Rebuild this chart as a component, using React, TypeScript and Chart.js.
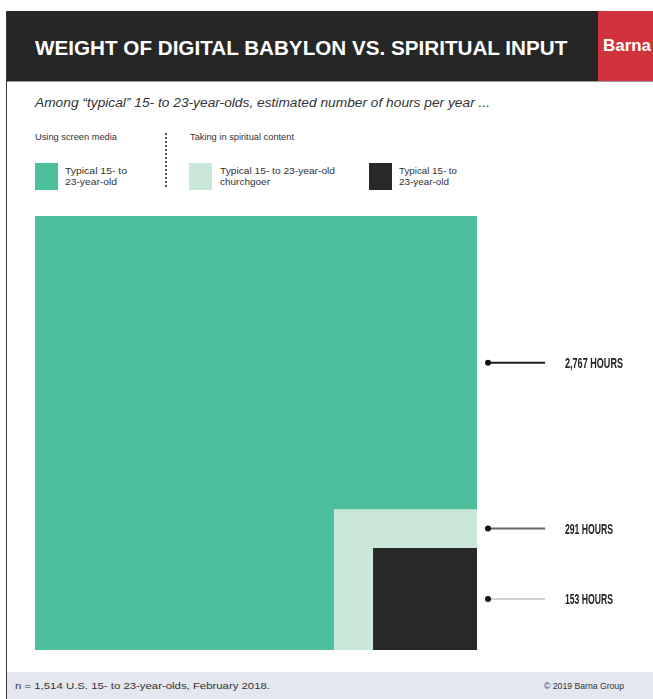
import React, { useEffect, useRef } from "react";
import { Chart, registerables } from "chart.js";

Chart.register(...registerables);

// ---- data ----
const categories = [
  "Typical 15- to 23-year-old (screen media)",
  "Typical 15- to 23-year-old churchgoer",
  "Typical 15- to 23-year-old",
];
const hours = [2767, 291, 153];
const hourLabels = ["2,767 HOURS", "291 HOURS", "153 HOURS"];
const colors = ["#4dbf9c", "#c9e8da", "#282828"];
const leaderColors = ["#1e1e1e", "#666666", "#d2d2d2"];

const titleText = "WEIGHT OF DIGITAL BABYLON VS. SPIRITUAL INPUT";
const subtitleText =
  "Among \u201ctypical\u201d 15- to 23-year-olds, estimated number of hours per year ...";
const footerLeft = "n = 1,514 U.S. 15- to 23-year-olds, February 2018.";
const footerRight = "\u00a9 2019 Barna Group";

const measureCanvas = typeof document !== "undefined" ? document.createElement("canvas") : null;
function measure(text: string, font: string): number {
  if (!measureCanvas) return 1;
  const ctx = measureCanvas.getContext("2d")!;
  ctx.font = font;
  return ctx.measureText(text).width || 1;
}

function Fit(props: {
  text: string;
  font: string;
  width: number;
  left: number;
  top: number;
  color: string;
  maxScale?: number;
}) {
  const w = measure(props.text, props.font);
  let s = props.width / w;
  if (props.maxScale && s > props.maxScale) s = props.maxScale;
  return (
    <div
      style={{
        position: "absolute",
        left: props.left,
        top: props.top,
        font: props.font,
        color: props.color,
        whiteSpace: "nowrap",
        lineHeight: "1",
        transformOrigin: "0 50%",
        transform: `translateY(-50%) scaleX(${s})`,
      }}
    >
      {props.text}
    </div>
  );
}

const sides = hours.map((h) => Math.sqrt(h));
const S = sides[0];

function ChartBox() {
  const ref = useRef<HTMLCanvasElement | null>(null);
  useEffect(() => {
    if (!ref.current) return;
    const datasets = hours.map((h, i) => {
      const s = sides[i];
      return {
        label: categories[i],
        data: [
          { x: S - s, y: 0 },
          { x: S - s, y: s },
          { x: S, y: s },
          { x: S, y: 0 },
        ],
        backgroundColor: colors[i],
        borderColor: colors[i],
        borderWidth: 0,
        pointRadius: 0,
        pointHoverRadius: 0,
        fill: "origin",
        tension: 0,
        order: hours.length - i,
      };
    });
    // draw order: larger first
    const leaderPlugin = {
      id: "leaders",
      afterDatasetsDraw(chart: any) {
        const { ctx, chartArea, scales } = chart;
        const ys = [(sides[0] + sides[1]) / 2, (sides[1] + sides[2]) / 2, sides[2] / 2];
        const widths = [58, 48, 48];
        ctx.save();
        ys.forEach((v, i) => {
          const py = scales.y.getPixelForValue(v);
          const x0 = chartArea.right + 11;
          const x1 = chartArea.right + 68;
          ctx.strokeStyle = leaderColors[i];
          ctx.lineWidth = 2;
          ctx.beginPath();
          ctx.moveTo(x0, py);
          ctx.lineTo(x1, py);
          ctx.stroke();
          ctx.fillStyle = "#111";
          ctx.beginPath();
          ctx.arc(x0, py, 3, 0, Math.PI * 2);
          ctx.fill();
          ctx.fillStyle = "#222";
          ctx.font = "bold 15px 'Liberation Sans'";
          ctx.textBaseline = "middle";
          ctx.textAlign = "left";
          ctx.fillText(hourLabels[i], chartArea.right + 88, py + 1, widths[i]);
        });
        ctx.restore();
      },
    };
    const chart = new Chart(ref.current, {
      type: "line",
      data: { datasets: datasets as any },
      options: {
        animation: false,
        responsive: false,
        maintainAspectRatio: false,
        layout: { padding: { left: 35, right: 176, top: 16, bottom: 15 } },
        scales: {
          x: { type: "linear", min: 0, max: S, display: false },
          y: { type: "linear", min: 0, max: S, display: false },
        },
        plugins: {
          legend: { display: false },
          tooltip: { enabled: false },
        },
        events: [],
      },
      plugins: [leaderPlugin],
    });
    return () => chart.destroy();
  }, []);
  return (
    <canvas
      ref={ref}
      width={653}
      height={465}
      style={{ position: "absolute", left: 0, top: 200, width: 653, height: 465 }}
    />
  );
}

function Swatch({ left, color }: { left: number; color: string }) {
  return (
    <div
      style={{ position: "absolute", left, top: 163, width: 23, height: 27, background: color }}
    />
  );
}

export default function App() {
  const small = "9px 'Liberation Sans'";
  return (
    <div
      style={{
        position: "absolute",
        left: 0,
        top: 0,
        width: 653,
        height: 699,
        background: "#ffffff",
        overflow: "hidden",
      }}
    >
      {/* left border */}
      <div style={{ position: "absolute", left: 6, top: 11, width: 1, height: 688, background: "#3a3a3a" }} />
      {/* header */}
      <div style={{ position: "absolute", left: 7, top: 11, width: 646, height: 70, background: "#262626" }} />
      <div style={{ position: "absolute", left: 7, top: 81, width: 646, height: 1, background: "#9a9a9a" }} />
      <div style={{ position: "absolute", left: 598, top: 11, width: 55, height: 70, background: "#d1333c" }} />
      <Fit text={titleText} font="bold 21px 'Liberation Sans'" width={533} left={35} top={47} color="#ffffff" />
      <Fit text="Barna" font="bold 17px 'Liberation Sans'" width={48} left={603} top={45} color="#ffffff" />
      {/* subtitle */}
      <Fit text={subtitleText} font="italic 12px 'Liberation Sans'" width={455} left={35} top={103} color="#333333" />
      {/* legend */}
      <Fit text="Using screen media" font={small} width={82} left={35} top={137} color="#333" />
      <Fit text="Taking in spiritual content" font={small} width={104} left={190} top={137} color="#333" />
      <div
        style={{
          position: "absolute",
          left: 165,
          top: 133,
          width: 0,
          height: 54,
          borderLeft: "2px dotted #555",
        }}
      />
      <Swatch left={35} color={colors[0]} />
      <Swatch left={189} color={colors[1]} />
      <Swatch left={369} color={colors[2]} />
      <Fit text="Typical 15- to" font={small} width={62} left={65} top={171} color="#333" />
      <Fit text="23-year-old" font={small} width={52} left={65} top={182} color="#333" />
      <Fit text="Typical 15- to 23-year-old" font={small} width={115} left={220} top={171} color="#333" />
      <Fit text="churchgoer" font={small} width={50} left={220} top={182} color="#333" />
      <Fit text="Typical 15- to" font={small} width={58} left={399} top={171} color="#333" />
      <Fit text="23-year-old" font={small} width={50} left={399} top={182} color="#333" />
      {/* chart */}
      <ChartBox />
      {/* footer */}
      <div style={{ position: "absolute", left: 7, top: 672, width: 646, height: 27, background: "#e4e7ef" }} />
      <Fit text={footerLeft} font={small} width={255} left={15} top={686} color="#333" />
      <Fit text={footerRight} font={small} width={80} left={544} top={686} color="#333" />
    </div>
  );
}
